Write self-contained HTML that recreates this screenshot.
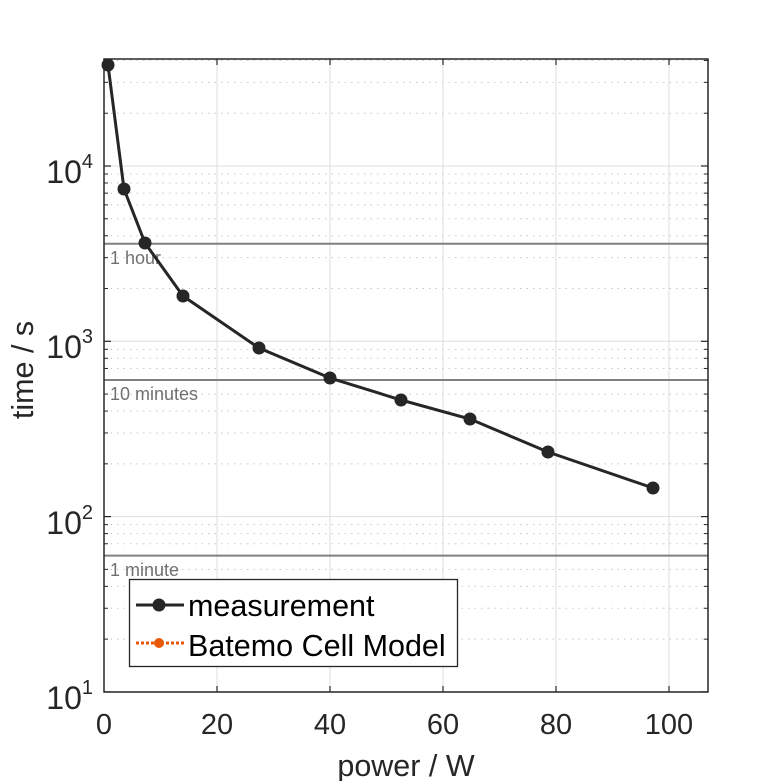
<!DOCTYPE html>
<html><head><meta charset="utf-8"><style>
html,body{margin:0;padding:0;background:#fff;}
svg{display:block;font-family:"Liberation Sans",sans-serif;}
</style></head><body>
<svg id="s" width="781" height="781" viewBox="0 0 781 781" xmlns="http://www.w3.org/2000/svg">
<rect width="781" height="781" fill="#fff"/>
<g id="grid"></g>
<g id="ticks"></g>
<line x1="104" y1="243.8" x2="708" y2="243.8" stroke="#808080" stroke-width="2"/>
<line x1="104" y1="380" x2="708" y2="380" stroke="#808080" stroke-width="2"/>
<line x1="104" y1="555.6" x2="708" y2="555.6" stroke="#808080" stroke-width="2"/>
<text x="110" y="264" font-size="18" fill="#707070">1 hour</text>
<text x="110" y="400" font-size="18" fill="#707070">10 minutes</text>
<text x="110" y="576" font-size="18" fill="#707070">1 minute</text>
<polyline fill="none" stroke="#262626" stroke-width="3" points="108,65 124,189 145,243 183,296 259,348 330,378 401,400 470,419 548,452 653,488"/>
<g fill="#262626">
<circle cx="108" cy="65" r="6.5"/><circle cx="124" cy="189" r="6.5"/><circle cx="145" cy="243" r="6.5"/><circle cx="183" cy="296" r="6.5"/><circle cx="259" cy="348" r="6.5"/><circle cx="330" cy="378" r="6.5"/><circle cx="401" cy="400" r="6.5"/><circle cx="470" cy="419" r="6.5"/><circle cx="548" cy="452" r="6.5"/><circle cx="653" cy="488" r="6.5"/>
</g>
<rect x="104" y="59" width="604" height="633" fill="none" stroke="#262626" stroke-width="1.5"/>
<rect x="129.5" y="579.5" width="328" height="87" fill="#fff" stroke="#262626" stroke-width="1.3"/>
<line x1="136" y1="605" x2="184" y2="605" stroke="#262626" stroke-width="3"/>
<circle cx="159" cy="605" r="6.5" fill="#262626"/>
<line x1="136" y1="643" x2="184" y2="643" stroke="#e8590c" stroke-width="3" stroke-dasharray="3,2"/>
<circle cx="159" cy="643" r="5" fill="#e8590c"/>
<text x="188" y="616" font-size="30.5" fill="#000">measurement</text>
<text x="188" y="656" font-size="30.5" fill="#000">Batemo Cell Model</text>
<g font-size="29" fill="#262626" text-anchor="middle">
<text x="104" y="734">0</text><text x="217" y="734">20</text><text x="330" y="734">40</text><text x="443" y="734">60</text><text x="556" y="734">80</text><text x="669" y="734">100</text>
</g>
<text x="406" y="776" font-size="30.5" fill="#262626" text-anchor="middle">power / W</text>
<text transform="translate(33,370) rotate(-90)" font-size="30.5" fill="#262626" text-anchor="middle">time / s</text>
<g font-size="32" fill="#262626" text-anchor="end">
<text x="93" y="183">10<tspan dy="-15" font-size="20">4</tspan></text>
<text x="93" y="358">10<tspan dy="-15" font-size="20">3</tspan></text>
<text x="93" y="534">10<tspan dy="-15" font-size="20">2</tspan></text>
<text x="93" y="709">10<tspan dy="-15" font-size="20">1</tspan></text>
</g>
</svg>
<script>
var g=document.getElementById('grid'),t=document.getElementById('ticks');
function L(p,x1,y1,x2,y2,st,w,da){var l=document.createElementNS('http://www.w3.org/2000/svg','line');l.setAttribute('x1',x1);l.setAttribute('y1',y1);l.setAttribute('x2',x2);l.setAttribute('y2',y2);l.setAttribute('stroke',st);l.setAttribute('stroke-width',w);if(da)l.setAttribute('stroke-dasharray',da);p.appendChild(l);}
function Y(v){return 166+175.3*(4-Math.log10(v));}
for(var x=20;x<=100;x+=20){var px=104+x*5.65;L(g,px,59,px,692,'#dedede',1);L(t,px,692,px,686,'#262626',1.2);L(t,px,59,px,65,'#262626',1.2);}
for(var d=1;d<=4;d++){for(var k=1;k<=9;k++){var v=k*Math.pow(10,d),y=Y(v);if(y<59||y>692)continue;
if(k==1){L(g,104,y,708,y,'#dedede',1);L(t,104,y,111,y,'#262626',1.2);L(t,708,y,701,y,'#262626',1.2);}
else{L(g,104,y,708,y,'#c8c8c8',1,'1.5,5');L(t,104,y,108,y,'#262626',1);L(t,708,y,704,y,'#262626',1);}}}
</script>
</body></html>
